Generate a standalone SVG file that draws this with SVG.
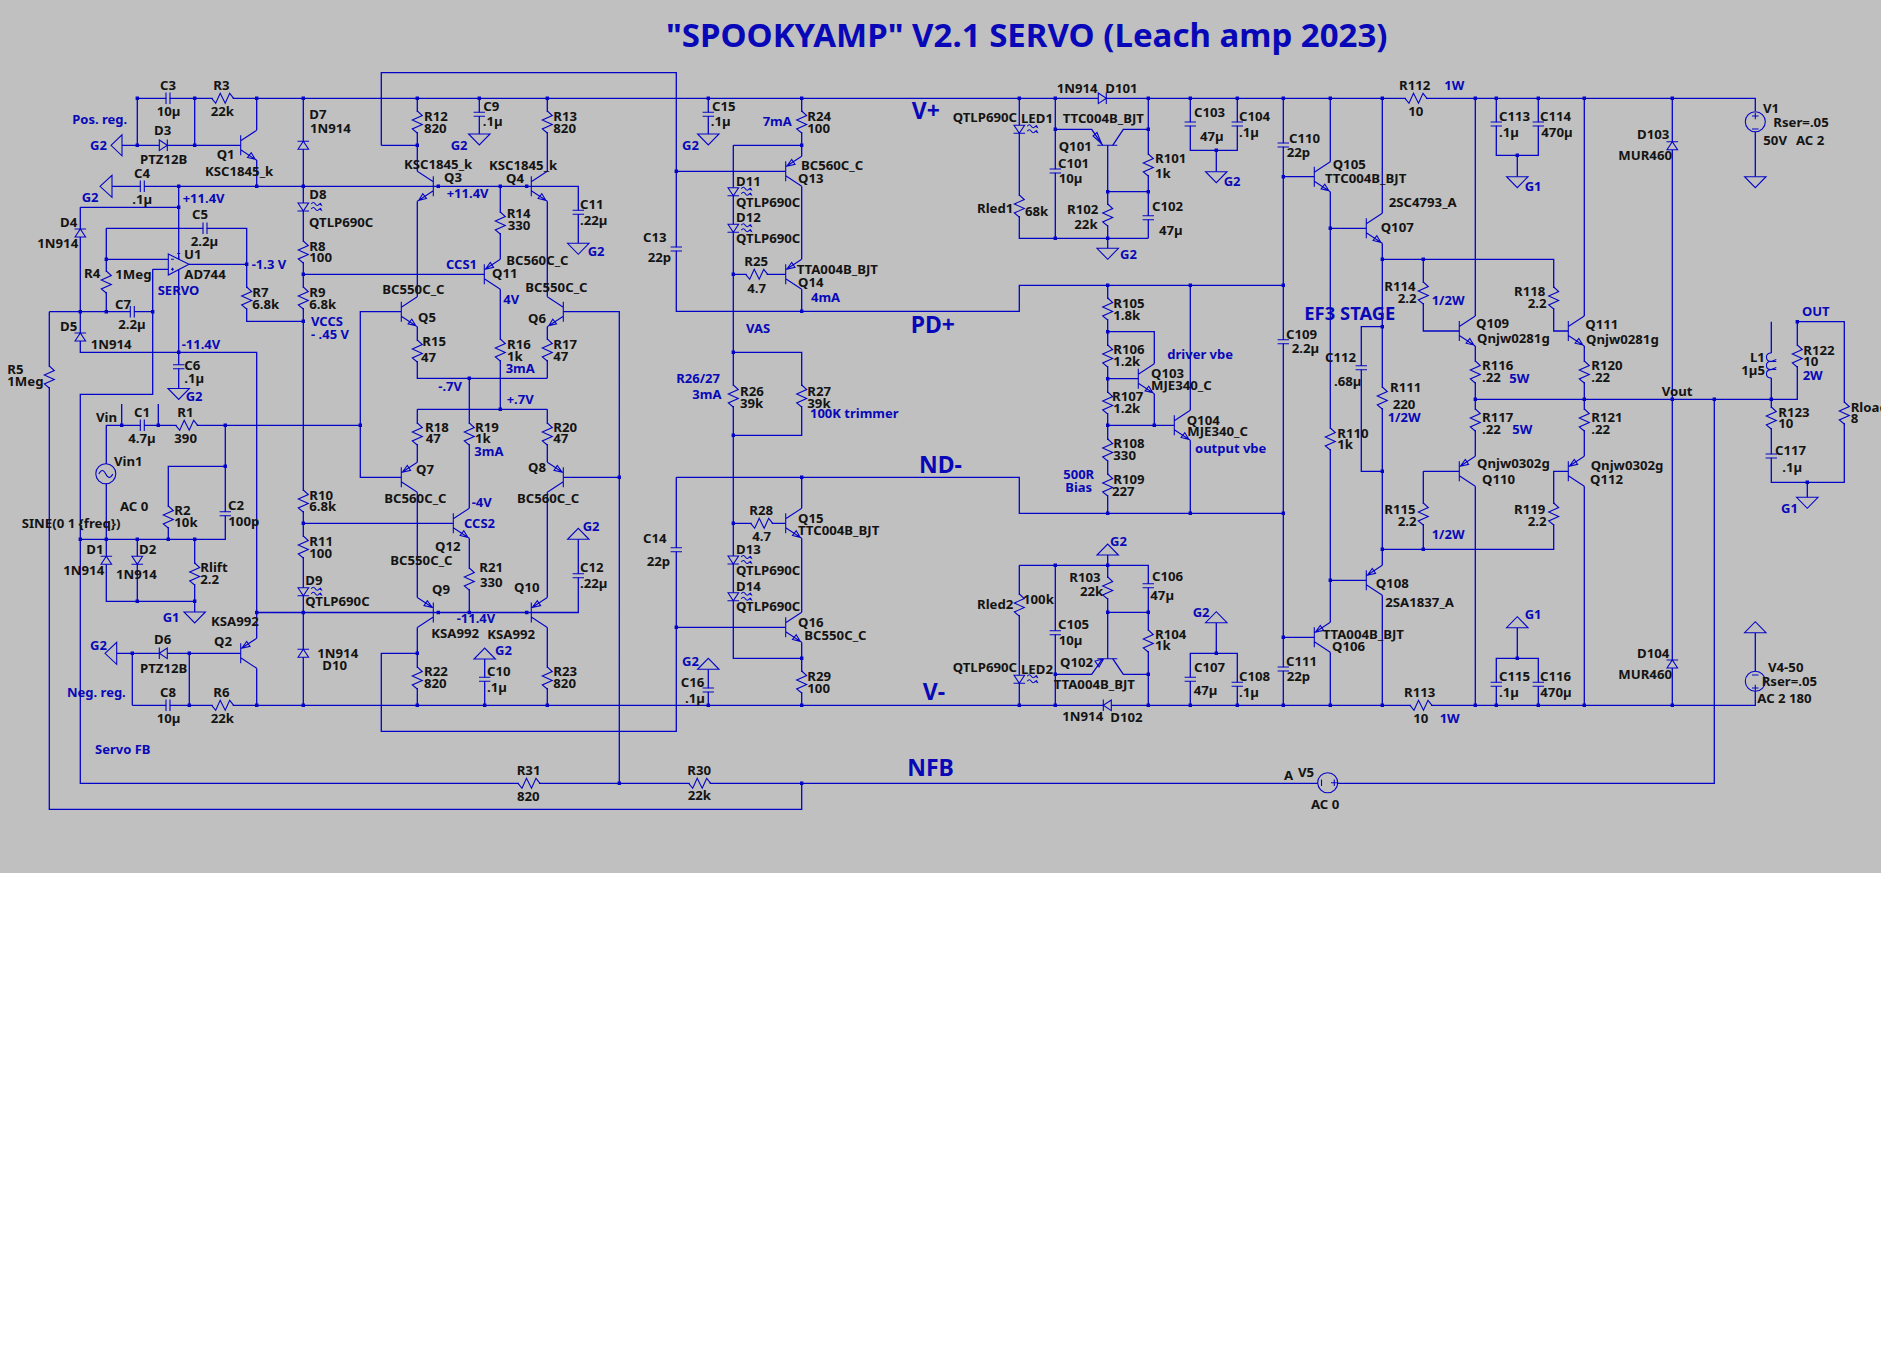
<svg xmlns="http://www.w3.org/2000/svg" xmlns:xlink="http://www.w3.org/1999/xlink" width="1881" height="1365" viewBox="0 0 1881 1365">
<style>
text{font-family:"Noto Sans","Liberation Sans",sans-serif;font-weight:700;font-size:13.2px;fill:#141414}
.b{fill:#0808B8;font-size:13px}
.l{font-size:23px}
.ttl{font-size:33px}
.m{font-size:18.4px}
.w{fill:none;stroke:#0404C8;stroke-width:1.3}
.s,.s *{stroke:#0404C8;stroke-width:1.1;fill:none}
.k{fill:#C0C0C0!important;stroke:none!important}
.f{fill:#C0C0C0!important}
.j{fill:none;stroke:#0404C8;stroke-width:3.4;stroke-linecap:square}
</style>
<defs>
<g id="r" class="s"><rect class="k" x="-1.5" y="-10" width="3" height="20"/><path d="M0-11L5-6.5-5-2 5 2.5-5 7 0 11"/></g>
<g id="rh" class="s"><rect class="k" x="-10" y="-1.5" width="20" height="3"/><path d="M-11 0L-7 5-2.5-5 2.5 5 7-5 11 0"/></g>
<g id="c" class="s"><rect class="k" x="-1.5" y="-1.7" width="3" height="3.4"/><path d="M-5.7-2H5.7M-5.7 2H5.7"/></g>
<g id="ch" class="s"><rect class="k" x="-1.7" y="-1.5" width="3.4" height="3"/><path d="M-2-5.7V5.7M2-5.7V5.7"/></g>
<path id="d" class="s f" d="M-5.3 4L0-4 5.3 4Z M-5.8-4H5.8"/>
<g id="led" class="s"><path class="f" d="M-5.3-4L0 4 5.3-4Z"/><path d="M-5.8 4H5.8M8-3q2-3 4 0t4 0l2 1-1-2M8 2q2-3 4 0t4 0l2 1-1-2"/></g>
<g id="npn" class="s"><path d="M0-10V10M0-4.5L16-15M0 4.5L16 15M14.5 14L10.5 7.4 6.8 12.2Z"/></g>
<g id="pnp" class="s"><path d="M0-10V10M0 4.5L16 15M0-4.5L16-15M1-5L9.3-6.9 6-11.9Z"/></g>
<path id="g" class="s f" d="M-10.7 0H10.7L0 11Z"/>
<path id="gu" class="s f" d="M-10.7 0H10.7L0-11Z"/>
</defs>
<rect width="1881" height="1365" fill="#fff"/>
<rect width="1881" height="873" fill="#C0C0C0"/>
<g id="wires"><path class="w" d="M137.3 98.3H1755.3V111M137.3 98.3V145.3M122 145.3H240.7M194.7 98.3V145.3M256.7 98.3V130M256.7 160V186.3M112 186.3H578.3V243M303.3 98.3V705.3M381.3 145.3V72.7H676.3V311.3H1019.3V285.3H1283.3M381.3 145.3H417.3M417.3 98.3V171.3M417.3 201.3V296.7M417.3 326.7V378.3H547.3M547.3 98.3V171.3M547.3 201.3V296.7M547.3 326.7V378.3M500.3 186.3V259.3M500.3 289.3V409.3M469.3 378.3V508.3M469.3 538.3V612.5M417.3 409.3H547.3M417.3 409.3V462.3M547.3 409.3V462.3M417.3 492.3V597.5M547.3 492.3V597.5M417.3 627.5V705.3M547.3 627.5V705.3M256.7 612.5H578.3V539.3M401.3 311.7H360.3V477.3H401.3M563.3 311.7H619.3V783.3M563.3 477.3H619.3M303.3 274.3H484.3M303.3 523.3H453.3M479.3 98.3V134M708.3 98.3V134M676.3 171.3H785.7M801.7 98.3V156.3M801.7 186.3V259.3M801.7 289.3V311.3M733.3 145.3H801.7M733.3 145.3V658.3H801.7M733.3 352.3H801.7V435.3H733.3M733.3 274.3H785.7M733.3 523.3H785.7M676.3 477.3H1019.3V513.3H1283.3M676.3 477.3V731.3H381.3V653.3H417.3M801.7 477.3V508.3M801.7 538.3V612.3M801.7 642.3V705.3M676.3 627.3H785.7M484.7 659V705.3M708.3 669.3V705.3M132.3 705.3H1755.3V691.3M132.3 653.3V705.3M116.7 653.3H240.7M189.3 653.3V705.3M256.7 612.5V638.3M256.7 668.3V705.3M178.7 186.3V388.5M80.3 207.3H178.7M80.3 207.3V352.3H256.7V612.5M152.7 269.3V394.3H80.3V783.3H1714.3V399.3M49.3 311.7H152.7M49.3 311.7V809.3H801.7V783.3M106.3 228.3V311.7M106.3 228.3H246.7V321.3H303.3M106.3 259.3H168.3M152.7 269.3H168.3M189 264.3H246.7M106.3 425.3H360.3M121.7 425.3V404M158.3 425.3V404M106.3 425.3V601.3H194.7M80.3 539.3H225.3V425.3M225.3 466.3H168.3V539.3M137.3 539.3V601.3M194.7 539.3V612M1019.3 98.3V238.3H1148.3M1055.3 98.3V238.3M1055.3 129.3H1091.7L1102.7 145.3M1112.7 145.3L1123.3 129.3H1148.3M1148.3 98.3V238.3M1107.7 145.3V248.3M1107.7 191.7H1148.3M1190.3 98.3V150.3H1237.3V98.3M1216.3 150.3V171.7M1107.7 285.3V513.3M1190.3 285.3V410.3M1190.3 440.3V513.3M1107.7 331.7H1154.3V363.7M1154.3 393.7V425.3M1107.7 378.7H1138.3M1107.7 425.3H1174.3M1107.7 555V658.7M1019.3 565.3H1148.3V705.3M1019.3 565.3V705.3M1055.3 565.3V705.3M1107.7 612.3H1148.3M1055.3 674.3H1091.7L1102.7 658.7M1112.7 658.7L1123.3 674.3H1148.3M1190.3 705.3V653.3H1237.3V705.3M1216.3 653.3V622.7M1283.3 98.3V705.3M1283.3 176.7H1314.3M1283.3 637.3H1314.3M1330.3 98.3V161.7M1330.3 191.7V622.3M1330.3 652.3V705.3M1330.3 228.3H1366.3M1330.3 580.3H1366.3M1382.3 98.3V213.3M1382.3 243.3V565.3M1382.3 595.3V705.3M1382.3 259.3H1553.7V331H1568.3M1423.3 259.3V331H1459.3M1382.3 326.7H1361.3V471.3H1382.3M1423.3 471.3H1459.3M1423.3 471.3V549.3M1382.3 549.3H1553.7V471.3H1568.3M1475.3 98.3V316M1475.3 346V456.3M1475.3 486.3V705.3M1584.3 98.3V316M1584.3 346V456.3M1584.3 486.3V705.3M1475.3 399.3H1797.3V321.7H1844.3V482.3H1771.3V399.3M1496.3 98.3V155.3H1538.3V98.3M1517.3 155.3V176.7M1496.3 705.3V658.3H1538.3V705.3M1517.3 658.3V627.7M1672.3 98.3V705.3M1771.3 321.7V399.3M1797.3 321.7V399.3M1807.3 482.3V497.3M1755.3 131.7V176.7M1755.3 632.7V671.3"/>
<path class="j" d="M137.3 98.3h0M194.7 98.3h0M256.7 98.3h0M303.3 98.3h0M417.3 98.3h0M479.3 98.3h0M547.3 98.3h0M708.3 98.3h0M801.7 98.3h0M1019.3 98.3h0M1055.3 98.3h0M1148.3 98.3h0M1190.3 98.3h0M1237.3 98.3h0M1283.3 98.3h0M1330.3 98.3h0M1382.3 98.3h0M1475.3 98.3h0M1496.3 98.3h0M1538.3 98.3h0M1584.3 98.3h0M1672.3 98.3h0M137.3 145.3h0M194.7 145.3h0M417.3 145.3h0M178.7 186.3h0M256.7 186.3h0M303.3 186.3h0M438.3 186.3h0M500.3 186.3h0M526.7 186.3h0M178.7 207.3h0M246.7 264.3h0M106.3 259.3h0M106.3 311.7h0M80.3 311.7h0M152.7 311.7h0M303.3 274.3h0M303.3 321.3h0M178.7 352.3h0M469.3 378.3h0M500.3 409.3h0M360.3 425.3h0M121.7 425.3h0M158.3 425.3h0M225.3 425.3h0M225.3 466.3h0M80.3 539.3h0M106.3 539.3h0M137.3 539.3h0M168.3 539.3h0M194.7 539.3h0M137.3 601.3h0M194.7 601.3h0M303.3 523.3h0M256.7 612.5h0M303.3 612.5h0M438.3 612.5h0M469.3 612.5h0M526.7 612.5h0M132.3 653.3h0M189.3 653.3h0M417.3 653.3h0M189.3 705.3h0M256.7 705.3h0M303.3 705.3h0M417.3 705.3h0M484.7 705.3h0M547.3 705.3h0M708.3 705.3h0M801.7 705.3h0M676.3 171.3h0M801.7 145.3h0M733.3 274.3h0M801.7 311.3h0M733.3 352.3h0M733.3 435.3h0M619.3 477.3h0M801.7 477.3h0M733.3 523.3h0M676.3 627.3h0M801.7 658.3h0M619.3 783.3h0M801.7 783.3h0M1107.7 238.3h0M1055.3 238.3h0M1055.3 129.3h0M1148.3 129.3h0M1107.7 191.7h0M1148.3 191.7h0M1216.3 150.3h0M1283.3 285.3h0M1107.7 285.3h0M1190.3 285.3h0M1107.7 331.7h0M1107.7 378.7h0M1107.7 425.3h0M1154.3 425.3h0M1107.7 513.3h0M1190.3 513.3h0M1283.3 513.3h0M1055.3 565.3h0M1107.7 565.3h0M1107.7 612.3h0M1148.3 612.3h0M1055.3 674.3h0M1148.3 674.3h0M1216.3 653.3h0M1019.3 705.3h0M1055.3 705.3h0M1148.3 705.3h0M1190.3 705.3h0M1237.3 705.3h0M1283.3 705.3h0M1330.3 705.3h0M1382.3 705.3h0M1475.3 705.3h0M1496.3 705.3h0M1538.3 705.3h0M1584.3 705.3h0M1672.3 705.3h0M1283.3 176.7h0M1283.3 637.3h0M1330.3 228.3h0M1330.3 580.3h0M1382.3 259.3h0M1423.3 259.3h0M1382.3 326.7h0M1382.3 471.3h0M1382.3 549.3h0M1423.3 549.3h0M1475.3 399.3h0M1584.3 399.3h0M1672.3 399.3h0M1714.3 399.3h0M1771.3 399.3h0M1797.3 321.7h0M1807.3 482.3h0M1517.3 155.3h0M1517.3 658.3h0"/></g>

<text id="title" class="b ttl" x="666" y="46.5">"SPOOKYAMP" V2.1 SERVO (Leach amp 2023)</text>
<g id="notes">
<text class="b" x="72.3" y="124">Pos. reg.</text><text class="b" x="182.7" y="203.3">+11.4V</text><text class="b" x="157.7" y="295">SERVO</text><text class="b" x="181.7" y="348.7">-11.4V</text><text class="b" x="251.7" y="268.7">-1.3 V</text><text class="b" x="311" y="325.7">VCCS</text><text class="b" x="311" y="338.7">- .45 V</text><text class="b" x="446.7" y="198.3">+11.4V</text><text class="b" x="446" y="269">CCS1</text><text class="b" x="503.3" y="304.3">4V</text><text class="b" x="505.7" y="373">3mA</text><text class="b" x="438.3" y="390.7">-.7V</text><text class="b" x="506.7" y="403.7">+.7V</text><text class="b" x="474.3" y="455.7">3mA</text><text class="b" x="471.7" y="507.3">-4V</text><text class="b" x="464" y="527.7">CCS2</text><text class="b" x="456.7" y="623.3">-11.4V</text><text class="b" x="762.7" y="125.7">7mA</text><text class="b" x="811" y="302.3">4mA</text><text class="b" x="746" y="333.3">VAS</text><text class="b" x="676.3" y="382.7">R26/27</text><text class="b" x="692.3" y="398.7">3mA</text><text class="b" x="810" y="418.3">100K trimmer</text><text class="b" x="67" y="697">Neg. reg.</text><text class="b" x="95" y="754">Servo FB</text>
<text class="b l" x="911.7" y="119.3">V+</text><text class="b l" x="910.7" y="332.7">PD+</text><text class="b l" x="919" y="472.7">ND-</text><text class="b l" x="922.7" y="700">V-</text><text class="b l" x="907.3" y="776">NFB</text>
<text class="b" x="1167.3" y="359.3">driver vbe</text><text class="b" x="1195" y="452.7">output vbe</text><text class="b" x="1063.3" y="479">500R</text><text class="b" x="1065.3" y="491.7">Bias</text><text class="b" x="1444.3" y="89.7">1W</text><text class="b" x="1431.7" y="304.7">1/2W</text><text class="b m" x="1304.3" y="320">EF3 STAGE</text><text class="b" x="1509.3" y="382.7">5W</text><text class="b" x="1387.7" y="421.7">1/2W</text><text class="b" x="1512.3" y="434.3">5W</text><text class="b" x="1431.7" y="539">1/2W</text><text class="b" x="1439.7" y="723">1W</text><text class="b" x="1802" y="315.7">OUT</text><text class="b" x="1802.7" y="380">2W</text>
<text x="96" y="421.7">Vin</text><text x="1661.7" y="395.7">Vout</text><text x="1284" y="780">A</text>
</g>

<g id="R1"><use xlink:href="#rh" x="186.7" y="425.3"/><text x="177.3" y="417">R1</text><text x="174.3" y="442.7">390</text></g>
<g id="R2"><use xlink:href="#r" x="168.3" y="517"/><text x="174.3" y="515">R2</text><text x="174.3" y="527">10k</text></g>
<g id="R3"><use xlink:href="#rh" x="222.7" y="98.3"/><text x="213.3" y="90">R3</text><text x="210.7" y="116">22k</text></g>
<g id="R4"><use xlink:href="#r" x="106.3" y="282"/><text x="84" y="277.7">R4</text><text x="115.3" y="279.3">1Meg</text></g>
<g id="R5"><use xlink:href="#r" x="49.3" y="377"/><text x="7.3" y="374">R5</text><text x="7.3" y="386">1Meg</text></g>
<g id="R6"><use xlink:href="#rh" x="222.7" y="705.3"/><text x="213.3" y="697">R6</text><text x="210.7" y="723">22k</text></g>
<g id="R7"><use xlink:href="#r" x="246.7" y="298"/><text x="252.3" y="296.7">R7</text><text x="252.3" y="308.7">6.8k</text></g>
<g id="R8"><use xlink:href="#r" x="303.3" y="252"/><text x="309.3" y="250.7">R8</text><text x="309.3" y="261.7">100</text></g>
<g id="R9"><use xlink:href="#r" x="303.3" y="298"/><text x="309.3" y="296.7">R9</text><text x="309.3" y="308.7">6.8k</text></g>
<g id="R10"><use xlink:href="#r" x="303.3" y="501"/><text x="309.3" y="500">R10</text><text x="309.3" y="510.7">6.8k</text></g>
<g id="R11"><use xlink:href="#r" x="303.3" y="547"/><text x="309.3" y="545.7">R11</text><text x="309.3" y="557.7">100</text></g>
<g id="R12"><use xlink:href="#r" x="417.3" y="122"/><text x="424" y="120.7">R12</text><text x="424" y="132.7">820</text></g>
<g id="R13"><use xlink:href="#r" x="547.3" y="122"/><text x="553.3" y="120.7">R13</text><text x="553.3" y="132.7">820</text></g>
<g id="R14"><use xlink:href="#r" x="500.3" y="223"/><text x="506.7" y="217.7">R14</text><text x="507.7" y="230">330</text></g>
<g id="R15"><use xlink:href="#r" x="417.3" y="351"/><text x="422.3" y="346">R15</text><text x="421" y="361.7">47</text></g>
<g id="R16"><use xlink:href="#r" x="500.3" y="350"/><text x="507" y="349">R16</text><text x="507" y="361">1k</text></g>
<g id="R17"><use xlink:href="#r" x="547.3" y="350"/><text x="553.3" y="349">R17</text><text x="553.3" y="361">47</text></g>
<g id="R18"><use xlink:href="#r" x="417.3" y="434"/><text x="425" y="431.7">R18</text><text x="425.7" y="443.3">47</text></g>
<g id="R19"><use xlink:href="#r" x="469.3" y="434"/><text x="475" y="431.7">R19</text><text x="475" y="443.3">1k</text></g>
<g id="R20"><use xlink:href="#r" x="547.3" y="434"/><text x="553.3" y="431.7">R20</text><text x="553.3" y="443.3">47</text></g>
<g id="R21"><use xlink:href="#r" x="469.3" y="579"/><text x="479.3" y="571.7">R21</text><text x="480" y="586.7">330</text></g>
<g id="R22"><use xlink:href="#r" x="417.3" y="678"/><text x="424" y="675.7">R22</text><text x="424" y="687.7">820</text></g>
<g id="R23"><use xlink:href="#r" x="547.3" y="678"/><text x="553.3" y="675.7">R23</text><text x="553.3" y="687.7">820</text></g>
<g id="R24"><use xlink:href="#r" x="801.7" y="122"/><text x="807.3" y="120.7">R24</text><text x="807.3" y="132.7">100</text></g>
<g id="R25"><use xlink:href="#rh" x="756.7" y="274.3"/><text x="744.3" y="265.7">R25</text><text x="747.3" y="292.7">4.7</text></g>
<g id="R26"><use xlink:href="#r" x="733.3" y="396"/><text x="740" y="395.7">R26</text><text x="740" y="407.7">39k</text></g>
<g id="R27"><use xlink:href="#r" x="801.7" y="396"/><text x="807.3" y="395.7">R27</text><text x="807.3" y="407.7">39k</text></g>
<g id="R28"><use xlink:href="#rh" x="761.7" y="523.3"/><text x="749.3" y="514.7">R28</text><text x="752.3" y="541.3">4.7</text></g>
<g id="R29"><use xlink:href="#r" x="801.7" y="682"/><text x="807.3" y="680.7">R29</text><text x="807.3" y="692.7">100</text></g>
<g id="R30"><use xlink:href="#rh" x="699.7" y="783.3"/><text x="687.3" y="775">R30</text><text x="687.7" y="800">22k</text></g>
<g id="R31"><use xlink:href="#rh" x="529" y="783.3"/><text x="516.7" y="775">R31</text><text x="517" y="800.7">820</text></g>
<g id="Rlift"><use xlink:href="#r" x="194.7" y="574"/><text x="200.3" y="571.7">Rlift</text><text x="200.3" y="584">2.2</text></g>
<g id="Rled1"><use xlink:href="#r" x="1019.3" y="206"/><text x="977" y="212.7">Rled1</text><text x="1025" y="215.7">68k</text></g>
<g id="Rled2"><use xlink:href="#r" x="1019.3" y="605"/><text x="977" y="608.7">Rled2</text><text x="1023" y="603.7">100k</text></g>
<g id="R101"><use xlink:href="#r" x="1148.3" y="165"/><text x="1155" y="162.7">R101</text><text x="1155" y="177.7">1k</text></g>
<g id="R102"><use xlink:href="#r" x="1107.7" y="215"/><text x="1067" y="213.7">R102</text><text x="1074.3" y="229">22k</text></g>
<g id="R103"><use xlink:href="#r" x="1107.7" y="588"/><text x="1069.3" y="582">R103</text><text x="1080" y="595.7">22k</text></g>
<g id="R104"><use xlink:href="#r" x="1148.3" y="641"/><text x="1155" y="638.7">R104</text><text x="1155" y="649.7">1k</text></g>
<g id="R105"><use xlink:href="#r" x="1107.7" y="309"/><text x="1113.3" y="307.7">R105</text><text x="1113.3" y="319.7">1.8k</text></g>
<g id="R106"><use xlink:href="#r" x="1107.7" y="356"/><text x="1113.3" y="354.3">R106</text><text x="1113.3" y="366">1.2k</text></g>
<g id="R107"><use xlink:href="#r" x="1107.7" y="403"/><text x="1112" y="400.7">R107</text><text x="1113.3" y="412.7">1.2k</text></g>
<g id="R108"><use xlink:href="#r" x="1107.7" y="450"/><text x="1113.3" y="447.7">R108</text><text x="1113.3" y="459.7">330</text></g>
<g id="R109"><use xlink:href="#r" x="1107.7" y="485"/><text x="1113.3" y="483.7">R109</text><text x="1112" y="495.7">227</text></g>
<g id="R110"><use xlink:href="#r" x="1330.3" y="439"/><text x="1337.3" y="437.7">R110</text><text x="1337.3" y="448.7">1k</text></g>
<g id="R111"><use xlink:href="#r" x="1382.3" y="398"/><text x="1390" y="392">R111</text><text x="1392.7" y="408.7">220</text></g>
<g id="R112"><use xlink:href="#rh" x="1416" y="98.3"/><text x="1399" y="89.7">R112</text><text x="1408.3" y="115.7">10</text></g>
<g id="R113"><use xlink:href="#rh" x="1421" y="705.3"/><text x="1404" y="697">R113</text><text x="1413.3" y="723">10</text></g>
<g id="R114"><use xlink:href="#r" x="1423.3" y="293"/><text x="1384.3" y="290.7">R114</text><text x="1397.7" y="302.7">2.2</text></g>
<g id="R115"><use xlink:href="#r" x="1423.3" y="514"/><text x="1384.3" y="513.7">R115</text><text x="1397.7" y="525.7">2.2</text></g>
<g id="R116"><use xlink:href="#r" x="1475.3" y="372"/><text x="1482" y="369.7">R116</text><text x="1482" y="382">.22</text></g>
<g id="R117"><use xlink:href="#r" x="1475.3" y="420"/><text x="1482" y="421.7">R117</text><text x="1482" y="433.7">.22</text></g>
<g id="R118"><use xlink:href="#r" x="1553.7" y="298"/><text x="1514" y="295.7">R118</text><text x="1527.7" y="307.7">2.2</text></g>
<g id="R119"><use xlink:href="#r" x="1553.7" y="514"/><text x="1514" y="513.7">R119</text><text x="1527.7" y="525.7">2.2</text></g>
<g id="R120"><use xlink:href="#r" x="1584.3" y="372"/><text x="1591.3" y="370">R120</text><text x="1591.3" y="382">.22</text></g>
<g id="R121"><use xlink:href="#r" x="1584.3" y="420"/><text x="1591.3" y="421.7">R121</text><text x="1591.3" y="433.7">.22</text></g>
<g id="R122"><use xlink:href="#r" x="1797.3" y="356"/><text x="1803.3" y="354.7">R122</text><text x="1803.3" y="365.7">10</text></g>
<g id="R123"><use xlink:href="#r" x="1771.3" y="418"/><text x="1778.3" y="416.7">R123</text><text x="1778.3" y="427.7">10</text></g>
<g id="Rload"><use xlink:href="#r" x="1844.3" y="413"/><text x="1850.7" y="411.7">Rload</text><text x="1850.7" y="422.7">8</text></g>

<g id="C1"><use xlink:href="#ch" x="142.3" y="425.3"/><text x="134" y="417">C1</text><text x="128.3" y="442.7">4.7µ</text></g>
<g id="C2"><use xlink:href="#c" x="225.3" y="513.7"/><text x="228" y="510">C2</text><text x="228.3" y="526">100p</text></g>
<g id="C3"><use xlink:href="#ch" x="168" y="98.3"/><text x="160" y="90">C3</text><text x="156.7" y="116">10µ</text></g>
<g id="C4"><use xlink:href="#ch" x="142.3" y="186.3"/><text x="134" y="178">C4</text><text x="132.3" y="204">.1µ</text></g>
<g id="C5"><use xlink:href="#ch" x="205" y="228.3"/><text x="192" y="218.7">C5</text><text x="190.7" y="246">2.2µ</text></g>
<g id="C6"><use xlink:href="#c" x="178.7" y="366.7"/><text x="184.3" y="370">C6</text><text x="184.3" y="382.7">.1µ</text></g>
<g id="C7"><use xlink:href="#ch" x="132.3" y="311.7"/><text x="115" y="309">C7</text><text x="118.3" y="329.3">2.2µ</text></g>
<g id="C8"><use xlink:href="#ch" x="168" y="705.3"/><text x="160" y="697">C8</text><text x="156.7" y="723">10µ</text></g>
<g id="C9"><use xlink:href="#c" x="479.3" y="114.3"/><text x="483.3" y="110.7">C9</text><text x="482.7" y="126">.1µ</text></g>
<g id="C10"><use xlink:href="#c" x="484.7" y="679.3"/><text x="487" y="675.7">C10</text><text x="487" y="692.3">.1µ</text></g>
<g id="C11"><use xlink:href="#c" x="578.3" y="212.3"/><text x="580" y="209">C11</text><text x="580" y="225">.22µ</text></g>
<g id="C12"><use xlink:href="#c" x="578.3" y="575.7"/><text x="580" y="571.7">C12</text><text x="580" y="587.7">.22µ</text></g>
<g id="C13"><use xlink:href="#c" x="676.3" y="249"/><text x="643" y="241.7">C13</text><text x="647.7" y="261.7">22p</text></g>
<g id="C14"><use xlink:href="#c" x="676.3" y="549.7"/><text x="643" y="543.3">C14</text><text x="646.7" y="565.7">22p</text></g>
<g id="C15"><use xlink:href="#c" x="708.3" y="114.3"/><text x="712" y="110.7">C15</text><text x="710.7" y="126">.1µ</text></g>
<g id="C16"><use xlink:href="#c" x="708.3" y="690"/><text x="680.7" y="686.7">C16</text><text x="685" y="702.7">.1µ</text></g>
<g id="C101"><use xlink:href="#c" x="1055.3" y="171"/><text x="1058" y="168">C101</text><text x="1058.7" y="183.3">10µ</text></g>
<g id="C102"><use xlink:href="#c" x="1148.3" y="217.7"/><text x="1152" y="210.7">C102</text><text x="1159" y="234.7">47µ</text></g>
<g id="C103"><use xlink:href="#c" x="1190.3" y="124"/><text x="1194" y="116.7">C103</text><text x="1200" y="140.7">47µ</text></g>
<g id="C104"><use xlink:href="#c" x="1237.3" y="124"/><text x="1239" y="120.7">C104</text><text x="1239" y="136.7">.1µ</text></g>
<g id="C105"><use xlink:href="#c" x="1055.3" y="632.7"/><text x="1058" y="628.7">C105</text><text x="1058.7" y="645">10µ</text></g>
<g id="C106"><use xlink:href="#c" x="1148.3" y="585.7"/><text x="1152" y="580.7">C106</text><text x="1150.3" y="599.7">47µ</text></g>
<g id="C107"><use xlink:href="#c" x="1190.3" y="679.3"/><text x="1194" y="671.7">C107</text><text x="1193.7" y="695">47µ</text></g>
<g id="C108"><use xlink:href="#c" x="1237.3" y="684.3"/><text x="1239" y="680.7">C108</text><text x="1239" y="696.7">.1µ</text></g>
<g id="C109"><use xlink:href="#c" x="1283.3" y="341.7"/><text x="1286" y="338.7">C109</text><text x="1291.7" y="353.3">2.2µ</text></g>
<g id="C110"><use xlink:href="#c" x="1283.3" y="145"/><text x="1289" y="142.7">C110</text><text x="1286.7" y="157.3">22p</text></g>
<g id="C111"><use xlink:href="#c" x="1283.3" y="669"/><text x="1286" y="666">C111</text><text x="1286.7" y="681">22p</text></g>
<g id="C112"><use xlink:href="#c" x="1361.3" y="367.7"/><text x="1325" y="361.7">C112</text><text x="1334" y="386">.68µ</text></g>
<g id="C113"><use xlink:href="#c" x="1496.3" y="124"/><text x="1499" y="120.7">C113</text><text x="1499" y="136.7">.1µ</text></g>
<g id="C114"><use xlink:href="#c" x="1538.3" y="124"/><text x="1540" y="120.7">C114</text><text x="1541.3" y="136.7">470µ</text></g>
<g id="C115"><use xlink:href="#c" x="1496.3" y="684.3"/><text x="1499" y="680.7">C115</text><text x="1499" y="697.3">.1µ</text></g>
<g id="C116"><use xlink:href="#c" x="1538.3" y="684.3"/><text x="1540" y="680.7">C116</text><text x="1540.3" y="697.3">470µ</text></g>
<g id="C117"><use xlink:href="#c" x="1771.3" y="456"/><text x="1775" y="454.7">C117</text><text x="1782.3" y="471.7">.1µ</text></g>

<g id="D1"><use xlink:href="#d" x="106.3" y="560.3"/><text x="86.3" y="554">D1</text><text x="63.3" y="575">1N914</text></g>
<g id="D2"><use xlink:href="#d" transform="translate(137.3 560.3) rotate(180)"/><text x="139" y="554">D2</text><text x="116" y="579">1N914</text></g>
<g id="D3"><use xlink:href="#d" transform="translate(163.3 145.3) rotate(90)"/><text x="154" y="135">D3</text><text x="140" y="164">PTZ12B</text></g>
<g id="D4"><use xlink:href="#d" x="80.3" y="233"/><text x="60" y="226.7">D4</text><text x="37.3" y="248">1N914</text></g>
<g id="D5"><use xlink:href="#d" x="80.3" y="337"/><text x="60" y="330.7">D5</text><text x="90.7" y="348.7">1N914</text></g>
<g id="D6"><use xlink:href="#d" transform="translate(163.3 653.3) rotate(-90)"/><text x="154" y="644">D6</text><text x="140" y="672.7">PTZ12B</text></g>
<g id="D7"><use xlink:href="#d" x="303.3" y="145.3"/><text x="309.3" y="119">D7</text><text x="310" y="132.7">1N914</text></g>
<g id="D8"><use xlink:href="#led" x="303.3" y="207"/><text x="309.3" y="199">D8</text><text x="309" y="226.7">QTLP690C</text></g>
<g id="D9"><use xlink:href="#led" x="303.3" y="591.7"/><text x="305.3" y="585">D9</text><text x="305.3" y="606">QTLP690C</text></g>
<g id="D10"><use xlink:href="#d" x="303.3" y="653.3"/><text x="317.3" y="658">1N914</text><text x="322.3" y="670">D10</text></g>
<g id="D11"><use xlink:href="#led" x="733.3" y="191.7"/><text x="736" y="185.7">D11</text><text x="736" y="206.7">QTLP690C</text></g>
<g id="D12"><use xlink:href="#led" x="733.3" y="228.3"/><text x="736" y="221.7">D12</text><text x="736" y="242.7">QTLP690C</text></g>
<g id="D13"><use xlink:href="#led" x="733.3" y="560"/><text x="736" y="553.7">D13</text><text x="736" y="574.7">QTLP690C</text></g>
<g id="D14"><use xlink:href="#led" x="733.3" y="596.7"/><text x="736" y="590.7">D14</text><text x="736" y="610.7">QTLP690C</text></g>
<g id="D101"><use xlink:href="#d" transform="translate(1102.3 98.3) rotate(90)"/><text x="1056.7" y="93.3">1N914</text><text x="1105.3" y="92.7">D101</text></g>
<g id="D102"><use xlink:href="#d" transform="translate(1107.3 705.3) rotate(-90)"/><text x="1062.3" y="720.7">1N914</text><text x="1110.3" y="721.7">D102</text></g>
<g id="D103"><use xlink:href="#d" x="1672.3" y="145.7"/><text x="1637" y="139">D103</text><text x="1618.3" y="159.7">MUR460</text></g>
<g id="D104"><use xlink:href="#d" x="1672.3" y="664"/><text x="1637" y="658">D104</text><text x="1618.3" y="678.7">MUR460</text></g>
<g id="LED1"><use xlink:href="#led" x="1019.3" y="129.3"/><text x="952.7" y="122">QTLP690C</text><text x="1021" y="123.3">LED1</text></g>
<g id="LED2"><use xlink:href="#led" x="1019.3" y="679.3"/><text x="952.7" y="672">QTLP690C</text><text x="1021" y="674">LED2</text></g>

<g id="Q1"><use xlink:href="#npn" x="240.7" y="145.3"/><text x="216.7" y="159">Q1</text><text x="205" y="176">KSC1845_k</text></g>
<g id="Q2"><use xlink:href="#pnp" x="240.7" y="653.3"/><text x="214" y="646">Q2</text><text x="211" y="625.7">KSA992</text></g>
<g id="Q3"><use xlink:href="#npn" transform="translate(433.3 186.3) scale(-1 1)"/><text x="444" y="182">Q3</text><text x="404" y="169">KSC1845_k</text></g>
<g id="Q4"><use xlink:href="#npn" x="531.3" y="186.3"/><text x="506" y="183.3">Q4</text><text x="489" y="170">KSC1845_k</text></g>
<g id="Q5"><use xlink:href="#npn" x="401.3" y="311.7"/><text x="418" y="321.7">Q5</text><text x="382.3" y="294">BC550C_C</text></g>
<g id="Q6"><use xlink:href="#npn" transform="translate(563.3 311.7) scale(-1 1)"/><text x="528" y="322.7">Q6</text><text x="525.3" y="292">BC550C_C</text></g>
<g id="Q7"><use xlink:href="#pnp" x="401.3" y="477.3"/><text x="416" y="474.3">Q7</text><text x="384.3" y="502.7">BC560C_C</text></g>
<g id="Q8"><use xlink:href="#pnp" transform="translate(563.3 477.3) scale(-1 1)"/><text x="528" y="471.7">Q8</text><text x="517" y="502.7">BC560C_C</text></g>
<g id="Q9"><use xlink:href="#pnp" transform="translate(433.3 612.5) scale(-1 1)"/><text x="432" y="593.7">Q9</text><text x="431.3" y="637.7">KSA992</text></g>
<g id="Q10"><use xlink:href="#pnp" x="531.3" y="612.5"/><text x="514" y="591.7">Q10</text><text x="487.3" y="639">KSA992</text></g>
<g id="Q11"><use xlink:href="#pnp" x="484.3" y="274.3"/><text x="492" y="277.7">Q11</text><text x="506.3" y="265">BC560C_C</text></g>
<g id="Q12"><use xlink:href="#npn" x="453.3" y="523.3"/><text x="435" y="550.7">Q12</text><text x="390.3" y="565">BC550C_C</text></g>
<g id="Q13"><use xlink:href="#pnp" x="785.7" y="171.3"/><text x="798" y="182.7">Q13</text><text x="801" y="170">BC560C_C</text></g>
<g id="Q14"><use xlink:href="#pnp" x="785.7" y="274.3"/><text x="798" y="286.7">Q14</text><text x="796.7" y="274">TTA004B_BJT</text></g>
<g id="Q15"><use xlink:href="#npn" x="785.7" y="523.3"/><text x="798" y="522.7">Q15</text><text x="798" y="534.7">TTC004B_BJT</text></g>
<g id="Q16"><use xlink:href="#npn" x="785.7" y="627.3"/><text x="798" y="626.7">Q16</text><text x="804.3" y="640">BC550C_C</text></g>
<g id="Q101"><path class="s" d="M1097.3 145.3H1117.3M1101.5 143.5L1097 132.5 1093 136Z"/><text x="1058.7" y="151">Q101</text><text x="1062.7" y="122.7">TTC004B_BJT</text></g>
<g id="Q102"><path class="s" d="M1097.3 658.7H1117.3M1103.5 659L1095 661 1099 667Z"/><text x="1060" y="666.7">Q102</text><text x="1053.7" y="689">TTA004B_BJT</text></g>
<g id="Q103"><use xlink:href="#npn" x="1138.3" y="378.7"/><text x="1151" y="377.7">Q103</text><text x="1151" y="389.7">MJE340_C</text></g>
<g id="Q104"><use xlink:href="#npn" x="1174.3" y="425.3"/><text x="1186.7" y="424.7">Q104</text><text x="1187.3" y="435.7">MJE340_C</text></g>
<g id="Q105"><use xlink:href="#npn" x="1314.3" y="176.7"/><text x="1332.7" y="169">Q105</text><text x="1325" y="182.7">TTC004B_BJT</text></g>
<g id="Q106"><use xlink:href="#pnp" x="1314.3" y="637.3"/><text x="1332" y="651">Q106</text><text x="1322.7" y="639">TTA004B_BJT</text></g>
<g id="Q107"><use xlink:href="#npn" x="1366.3" y="228.3"/><text x="1380.7" y="231.7">Q107</text><text x="1388.7" y="206.7">2SC4793_A</text></g>
<g id="Q108"><use xlink:href="#pnp" x="1366.3" y="580.3"/><text x="1375.7" y="587.7">Q108</text><text x="1385.3" y="607">2SA1837_A</text></g>
<g id="Q109"><use xlink:href="#npn" x="1459.3" y="331"/><text x="1476" y="328.3">Q109</text><text x="1477" y="343.3">Qnjw0281g</text></g>
<g id="Q110"><use xlink:href="#pnp" x="1459.3" y="471.3"/><text x="1482" y="483.7">Q110</text><text x="1477" y="468">Qnjw0302g</text></g>
<g id="Q111"><use xlink:href="#npn" x="1568.3" y="331"/><text x="1585.3" y="329">Q111</text><text x="1586" y="344">Qnjw0281g</text></g>
<g id="Q112"><use xlink:href="#pnp" x="1568.3" y="471.3"/><text x="1590" y="483.7">Q112</text><text x="1590.7" y="469.7">Qnjw0302g</text></g>

<g id="U1"><path class="s f" d="M168.3 254L189 264.3 168.3 275Z"/><path class="s" d="M178.7 256.5V259.5M177.2 253.5h3M171 259.3h3M171 269.3h3M172.5 267.8v3"/><text x="184" y="259">U1</text><text x="184.3" y="279">AD744</text></g>
<g id="Vin1"><circle class="s f" cx="105.8" cy="473.7" r="10"/><path class="s" d="M98.8 474q3.5-7 7 0t7 0"/><text x="114" y="465.7">Vin1</text><text x="120" y="510.7">AC 0</text><text x="21.7" y="528">SINE(0 1 {freq})</text></g>
<g id="V1"><circle class="s f" cx="1755.3" cy="121.7" r="10"/><path class="s" d="M1752 116h6.6M1755.3 112.7v6.6M1752 129h6.6"/><text x="1763" y="113">V1</text><text x="1773.3" y="126.7">Rser=.05</text><text x="1763.3" y="145.3">50V</text><text x="1796" y="144.7">AC 2</text></g>
<g id="V4"><circle class="s f" cx="1755.3" cy="681.3" r="10"/><path class="s" d="M1752 675h6.6M1752 688h6.6M1755.3 684.7v6.6"/><text x="1768" y="672">V4-50</text><text x="1761.7" y="685.7">Rser=.05</text><text x="1757.3" y="702.7">AC 2 180</text></g>
<g id="V5"><circle class="s f" cx="1327.7" cy="782.8" r="10"/><path class="s" d="M1321.5 779.5v6.6M1331 782.8h6.6M1334.3 779.5v6.6"/><text x="1298" y="777.3">V5</text><text x="1311" y="808.7">AC 0</text></g>
<g id="L1"><rect class="k" x="1769.5" y="353" width="3.5" height="25"/><path class="s" d="M1771.3 353c-6.5 0-6.5 8.3 0 8.3c-6.5 0-6.5 8.3 0 8.3c-6.5 0-6.5 8.3 0 8.3M1771.3 361.5h5M1771.3 369.5h5M1771.3 361.5l5-2M1771.3 369.5l5-2"/><text x="1750" y="362.3">L1</text><text x="1741.3" y="375.3">1µ5</text></g>

<g id="grounds">
<path class="s f" d="M111 145.3L122 134.8V155.8Z"/><text class="b" x="90" y="150">G2</text>
<path class="s f" d="M100 186.3L112 175.3V197.3Z"/><text class="b" x="81.7" y="202">G2</text>
<path class="s f" d="M105 653.3L116.7 642.3V664.3Z"/><text class="b" x="90" y="650">G2</text>
<use xlink:href="#g" x="178.7" y="388.5"/><text class="b" x="185.7" y="400.7">G2</text>
<use xlink:href="#g" x="194.7" y="612"/><text class="b" x="162.7" y="621.7">G1</text>
<use xlink:href="#g" x="479.3" y="134"/><text class="b" x="450.7" y="150">G2</text>
<use xlink:href="#g" x="578.3" y="243.3"/><text class="b" x="587.7" y="256">G2</text>
<use xlink:href="#gu" x="578.3" y="539.3"/><text class="b" x="582.7" y="530.7">G2</text>
<use xlink:href="#gu" x="484.7" y="659"/><text class="b" x="495" y="655">G2</text>
<use xlink:href="#g" x="708.3" y="134"/><text class="b" x="682" y="150">G2</text>
<use xlink:href="#gu" x="708.3" y="669.3"/><text class="b" x="682" y="665.7">G2</text>
<use xlink:href="#g" x="1107.7" y="248.3"/><text class="b" x="1120" y="258.7">G2</text>
<use xlink:href="#g" x="1216.3" y="171.7"/><text class="b" x="1223.7" y="185.7">G2</text>
<use xlink:href="#gu" x="1107.7" y="555"/><text class="b" x="1110" y="545.7">G2</text>
<use xlink:href="#gu" x="1216.3" y="622.7"/><text class="b" x="1192.7" y="616.7">G2</text>
<use xlink:href="#g" x="1517.3" y="176.7"/><text class="b" x="1524.7" y="190.7">G1</text>
<use xlink:href="#gu" x="1517.3" y="627.7"/><text class="b" x="1524.7" y="619">G1</text>
<use xlink:href="#g" x="1755.3" y="176.7"/>
<use xlink:href="#gu" x="1755.3" y="632.7"/>
<use xlink:href="#g" x="1807.3" y="497.3"/><text class="b" x="1781" y="513">G1</text>
</g>
</svg>
